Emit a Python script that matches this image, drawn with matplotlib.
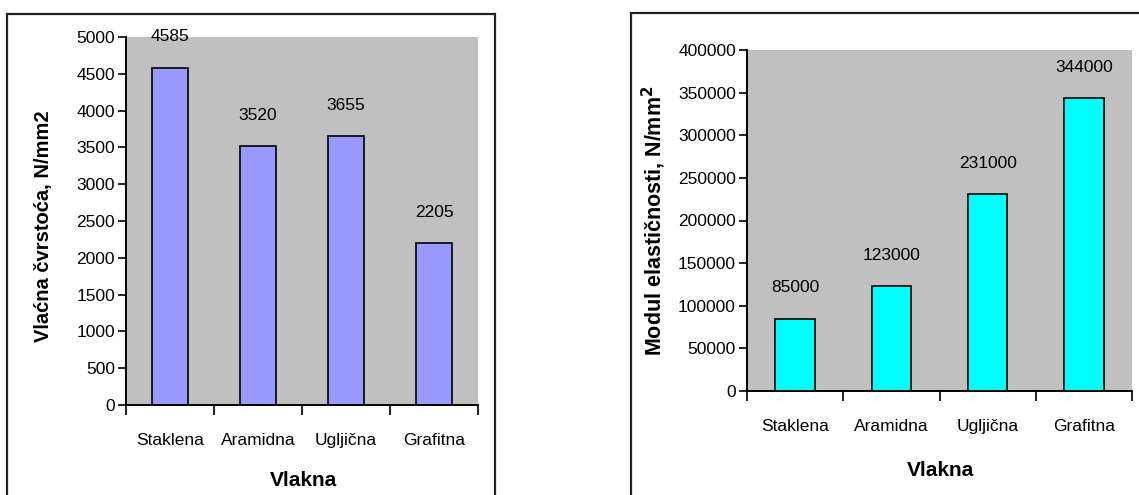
import matplotlib
matplotlib.use("Agg")
import matplotlib.pyplot as plt
from matplotlib.patches import Rectangle
import numpy as np

plt.rcParams['font.family'] = ['Liberation Sans', 'DejaVu Sans']

# data
vlakna = ['Staklena', 'Aramidna', 'Ugljična', 'Grafitna']
cvrstoca = [4585, 3520, 3655, 2205]
modul = [85000, 123000, 231000, 344000]

cvrstoca_ticks = np.arange(0, 5001, 500)
modul_ticks = np.arange(0, 400001, 50000)

W, H = 1139, 495
fig = plt.figure(figsize=(W / 100, H / 100), dpi=100)


def px_axes(x0, y0, x1, y1):
    # pixel box (top-left origin) -> figure fraction axes
    return fig.add_axes([x0 / W, 1 - y1 / H, (x1 - x0) / W, (y1 - y0) / H])


def draw_panel(ax, values, ticks, color, top):
    x = np.arange(len(values))
    ax.bar(x, values, width=0.41, color=color, edgecolor='black', linewidth=1.2, zorder=2)
    ax.set_facecolor('#c0c0c0')
    ax.set_xlim(-0.5, len(values) - 0.5)
    ax.set_ylim(0, top)
    ax.set_yticks(ticks)
    ax.set_yticklabels([str(t) for t in ticks])
    # ticks sit on category boundaries, labels in the middle
    ax.set_xticks(np.arange(len(values) + 1) - 0.5)
    ax.set_xticklabels([])
    ax.set_xticks(x, minor=True)
    ax.set_xticklabels(vlakna, minor=True)
    ax.tick_params(axis='x', which='major', direction='out', length=7, width=1.2)
    ax.tick_params(axis='x', which='minor', length=0, pad=20, labelsize=12.5)
    ax.tick_params(axis='y', direction='out', length=6, width=1.2, pad=2, labelsize=12.5)
    for s in ['top', 'right']:
        ax.spines[s].set_visible(False)
    for s in ['left', 'bottom']:
        ax.spines[s].set_linewidth(1.4)
    for xi, v in zip(x, values):
        ax.annotate(str(v), (xi, v), xytext=(0, 22), textcoords='offset points',
                    ha='center', va='center', fontsize=12.5, annotation_clip=False)


ax1 = px_axes(126, 37, 478, 405)
draw_panel(ax1, cvrstoca, cvrstoca_ticks, '#9999ff', 5000)
ax2 = px_axes(747, 50, 1132, 391)
draw_panel(ax2, modul, modul_ticks, '#00ffff', 400000)

fig.text(44 / W, 1 - 226 / H, 'Vlaćna čvrstoća, N/mm2', rotation=90, ha='center', va='center',
         fontsize=14.5, fontweight='bold')
fig.text(654 / W, 1 - 221 / H, 'Modul elastičnosti, N/mm$^\\mathbf{2}$', rotation=90, ha='center',
         va='center', fontsize=15.5, fontweight='bold')
fig.text(303 / W, 1 - 480 / H, 'Vlakna', ha='center', va='center', fontsize=15, fontweight='bold')
fig.text(940 / W, 1 - 470 / H, 'Vlakna', ha='center', va='center', fontsize=15, fontweight='bold')

# panel frames
fig.patches.append(Rectangle((7 / W, -0.1), 488 / W, 1.1 - 14 / H, transform=fig.transFigure,
                             fill=False, edgecolor='#222222', linewidth=1.6))
fig.patches.append(Rectangle((631 / W, -0.1), 0.5, 1.1 - 13 / H, transform=fig.transFigure,
                             fill=False, edgecolor='#222222', linewidth=1.6))

fig.savefig('out.png', dpi=100)
